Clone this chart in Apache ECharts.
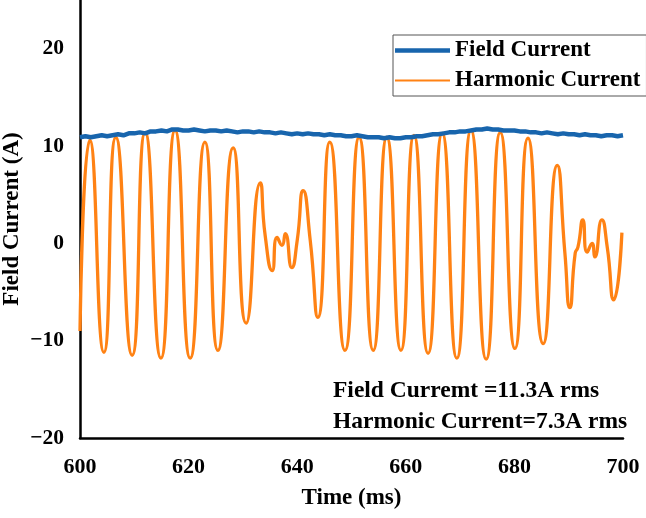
<!DOCTYPE html>
<html>
<head>
<meta charset="utf-8">
<script src="https://cdn.jsdelivr.net/npm/echarts@6/dist/echarts.min.js"></script>
<style>
  html, body { margin: 0; padding: 0; background: #fff; }
  #chart { width: 646px; height: 518px; }
</style>
</head>
<body>
<div id="chart"></div>
<script>
// Field current, one sample per ms from 600 to 700 ms
const fieldStart = 600;
const fieldValues = [
  10.9, 11.0, 10.9, 11.0, 11.1, 11.0, 11.1, 11.2, 11.1, 11.3,
  11.3, 11.4, 11.3, 11.5, 11.5, 11.6, 11.5, 11.7, 11.7, 11.6,
  11.6, 11.7, 11.6, 11.5, 11.6, 11.6, 11.5, 11.6, 11.5, 11.4,
  11.5, 11.5, 11.4, 11.5, 11.4, 11.4, 11.3, 11.4, 11.3, 11.2,
  11.3, 11.2, 11.3, 11.2, 11.2, 11.1, 11.2, 11.1, 11.1, 11.0,
  11.0, 11.1, 11.0, 10.9, 10.9, 10.9, 10.8, 10.9, 10.8, 10.8,
  10.9, 10.9, 11.0, 11.0, 11.1, 11.2, 11.2, 11.3, 11.4, 11.4,
  11.5, 11.5, 11.6, 11.7, 11.7, 11.8, 11.7, 11.7, 11.6, 11.6,
  11.6, 11.5, 11.5, 11.4, 11.4, 11.3, 11.4, 11.3, 11.2, 11.3,
  11.2, 11.2, 11.1, 11.2, 11.1, 11.1, 11.0, 11.1, 11.1, 11.0,
  11.1
];

// Harmonic current: turning points (time ms, value A)
const harmonicTimes = [
  600.0, 601.8, 604.4, 606.6, 609.6, 612.0, 614.9, 617.5, 620.3, 623.0,
  625.4, 628.2, 630.6, 633.2, 634.1, 635.4, 636.3, 637.2, 637.8, 639.0,
  640.0, 641.1, 642.4, 643.8, 646.0, 648.8, 651.4, 654.0, 656.5, 659.1,
  661.5, 664.1, 666.7, 669.4, 672.0, 674.8, 677.4, 680.1, 682.5, 685.3,
  687.9, 689.3, 690.2, 691.2, 691.7, 692.6, 693.4, 694.3, 694.8, 696.1,
  697.1, 698.3, 699.8
];
const harmonicValues = [
  -9.0, 10.6, -11.2, 10.9, -11.5, 11.4, -11.8, 11.6, -11.8, 10.4,
  -11.0, 9.8, -8.2, 6.2, 0.8, -2.8, 0.6, -0.2, 1.0, -2.5,
  0.3, 5.4, 0.3, -7.6, 10.4, -11.0, 10.9, -11.0, 10.9, -11.0,
  11.1, -11.3, 11.3, -11.8, 11.6, -11.9, 11.4, -10.8, 10.8, -10.3,
  8.0, -1.0, -6.6, -1.0, -0.4, 2.4, -0.9, 0.0, -1.4, 2.4,
  -0.4, -5.8, 1.1
];

const yTicks = [-20, -10, 0, 10, 20];
const annotations = ['Field Curremt =11.3A rms', 'Harmonic Current=7.3A rms'];

const font = 'Liberation Serif';
const fieldData = fieldValues.map((v, i) => [fieldStart + i, v]);
const harmonicData = harmonicTimes.map((t, i) => [t, harmonicValues[i]]);

const chart = echarts.init(document.getElementById('chart'));

chart.setOption({
  animation: false,
  grid: { left: 80, right: 23, top: 0, bottom: 80, outerBoundsMode: 'none', containLabel: false },
  legend: {
    orient: 'vertical',
    left: 393,
    top: 35,
    padding: [4, 6, 4, 2],
    itemGap: 7,
    itemWidth: 55,
    itemHeight: 14,
    borderColor: '#555',
    borderWidth: 1,
    textStyle: { fontFamily: font, fontWeight: 'bold', fontSize: 23, color: '#000' },
    data: [
      { name: 'Field Current', icon: 'path://M0 0H100V8H0Z', itemStyle: { color: '#1865ad' } },
      { name: 'Harmonic Current', icon: 'path://M0 0H100V4H0Z', itemStyle: { color: '#ff8214' } },
    ],
  },
  xAxis: {
    type: 'value',
    min: 600,
    max: 700,
    interval: 20,
    name: 'Time (ms)',
    nameLocation: 'middle',
    nameGap: 49,
    nameMoveOverlap: false,
    nameTextStyle: { fontFamily: font, fontWeight: 'bold', fontSize: 23, color: '#000' },
    axisLine: { onZero: false, lineStyle: { color: '#000', width: 2.5 } },
    axisTick: { show: false },
    splitLine: { show: false },
    axisLabel: {
      margin: 18,
      fontFamily: font, fontWeight: 'bold', fontSize: 22, color: '#000',
    },
  },
  yAxis: {
    type: 'value',
    min: -20,
    max: 25,
    interval: 10,
    name: 'Field Current (A)',
    nameLocation: 'middle',
    nameGap: 56,
    nameMoveOverlap: false,
    nameTextStyle: { fontFamily: font, fontWeight: 'bold', fontSize: 23, color: '#000' },
    axisLine: { show: true, onZero: false, lineStyle: { color: '#000', width: 2.5 } },
    axisTick: { show: false },
    splitLine: { show: false },
    axisLabel: {
      margin: 16,
      showMaxLabel: false,
      fontFamily: font, fontWeight: 'bold', fontSize: 21.5, color: '#000',
      formatter: (v) => (yTicks.includes(v) ? String(v).replace('-', '\u2212') : ''),
    },
  },
  graphic: annotations.map((t, i) => ({
    type: 'text',
    x: 333,
    y: 391 + i * 31,
    style: {
      text: t, fontFamily: font, fontWeight: 'bold', fontSize: 23.5, fill: '#000',
      verticalAlign: 'middle',
    },
  })),
  series: [
    {
      name: 'Harmonic Current',
      type: 'line',
      data: harmonicData,
      smooth: 0.6,
      showSymbol: false,
      symbol: 'none',
      color: '#ff8214',
      lineStyle: { width: 3.3, color: '#ff8214' },
      z: 2,
    },
    {
      name: 'Field Current',
      type: 'line',
      data: fieldData,
      showSymbol: false,
      symbol: 'none',
      color: '#1865ad',
      lineStyle: { width: 4.5, color: '#1865ad' },
      z: 3,
    },
  ],
});
</script>
</body>
</html>
